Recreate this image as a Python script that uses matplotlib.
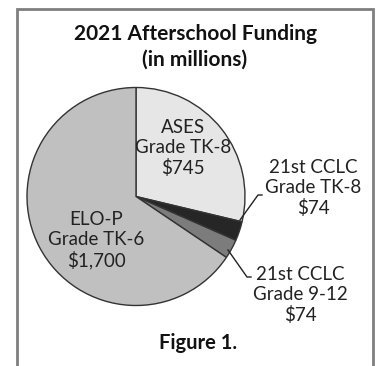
import numpy as np
import matplotlib.pyplot as plt
from matplotlib.patches import Rectangle

plt.rcParams['font.family'] = ['Lato', 'DejaVu Sans']

# Datos del grafico (millones de dolares)
categorias = ['ASES', '21st CCLC', '21st CCLC', 'ELO-P']
grados = ['Grade TK-8', 'Grade TK-8', 'Grade 9-12', 'Grade TK-6']
montos = [745, 74, 74, 1700]
etiquetas_monto = ['$745', '$74', '$74', '$1,700']
colores = ['#e6e6e6', '#262626', '#7c7c7c', '#c0c0c0']

W, H = 379, 366
fig = plt.figure(figsize=(W / 100, H / 100), dpi=100)
ax = fig.add_axes([0, 0, 1, 1])

# Marco exterior
ax.add_patch(Rectangle((17, -5), 356, 366 - 9 + 5, fill=False,
                       edgecolor='#7f7f7f', lw=2))

cx, cy, r = 136, H - 196.5, 109
wedges, _ = ax.pie(montos, colors=colores, startangle=90, counterclock=False,
                   center=(cx, cy), radius=r, frame=True,
                   wedgeprops=dict(edgecolor='#333333', linewidth=1))
ax.set_xlim(0, W)
ax.set_ylim(0, H)
ax.set_aspect('equal')
ax.axis('off')

ax.text(195, H - 34, '2021 Afterschool Funding', ha='center', va='center',
        fontsize=15, fontweight='bold', color='#111111')
ax.text(195, H - 60, '(in millions)', ha='center', va='center',
        fontsize=15, fontweight='bold', color='#111111')

estilo = dict(ha='center', va='center', fontsize=13.5, linespacing=1.2,
              color='#222222')

# Etiquetas dentro del pie
ax.text(183, H - 148, f'{categorias[0]}\n{grados[0]}\n{etiquetas_monto[0]}', **estilo)
ax.text(96, H - 240, f'{categorias[3]}\n{grados[3]}\n{etiquetas_monto[3]}', **estilo)

# Etiquetas externas con lineas guia
ax.text(313, H - 188, f'{categorias[1]}\n{grados[1]}\n{etiquetas_monto[1]}', **estilo)
ax.plot([240, 258, 262], [H - 220, H - 195, H - 195], color='#222222', lw=1)

ax.text(300, H - 295, f'{categorias[2]}\n{grados[2]}\n{etiquetas_monto[2]}', **estilo)
ax.plot([228, 247, 251], [H - 250, H - 277, H - 277], color='#222222', lw=1)

ax.text(198, H - 343, 'Figure 1.', ha='center', va='center',
        fontsize=14.5, fontweight='bold', color='#111111')

fig.savefig('out.png', dpi=100)
